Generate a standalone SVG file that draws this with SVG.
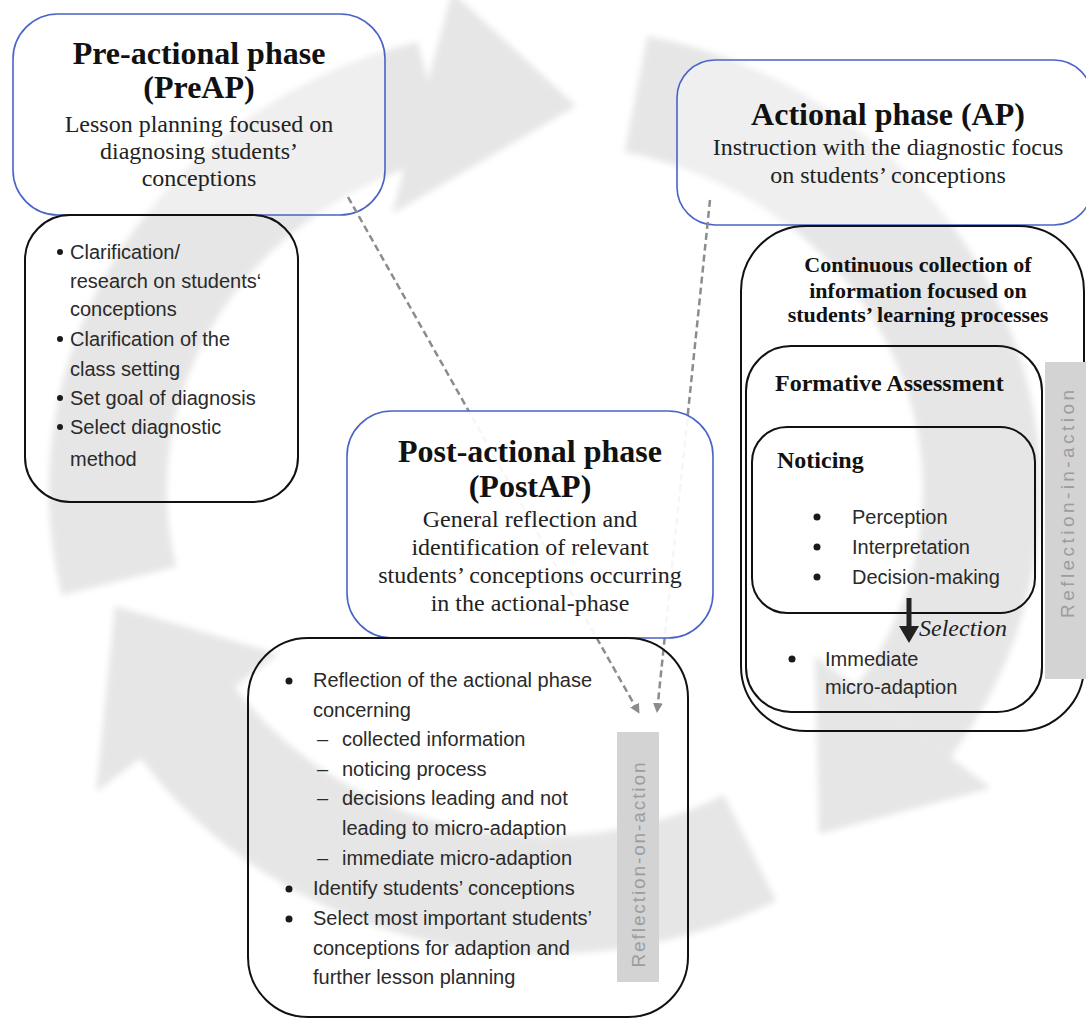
<svg xmlns="http://www.w3.org/2000/svg" width="1086" height="1019" viewBox="0 0 1086 1019">
<defs>
<style>
.bg{fill:#e6e6e6}
.bgs{fill:none;stroke:#e6e6e6;stroke-width:118}
.phase{fill:#ffffff;fill-opacity:0.35;stroke:#4a63c6;stroke-width:1.6}
.solid{fill-opacity:0.92}
.list{fill:none;stroke:#111;stroke-width:2}
.t{font-family:"Liberation Serif","Times New Roman",serif;fill:#111;text-anchor:middle}
.h{font-size:32px;font-weight:bold}
.s{font-size:24px;fill:#222}
.b{font-size:22px;font-weight:bold}
.hb{font-family:"Liberation Serif","Times New Roman",serif;font-size:24px;font-weight:bold;fill:#111}
.l{font-family:"Liberation Sans",Arial,sans-serif;font-size:20px;fill:#2a2a2a}
.dot{fill:#1a1a1a}
.dash{stroke:#8c8c8c;stroke-width:2.5;stroke-dasharray:7 4;fill:none}
.refl{fill:#d3d3d3}
.rt{font-family:"Liberation Sans",Arial,sans-serif;font-size:19px;fill:#9c9c9c;text-anchor:middle}
</style>
<marker id="ah" viewBox="0 0 10 10" refX="9" refY="5" markerWidth="4" markerHeight="4" orient="auto">
<path d="M0,0 L10,5 L0,10 z" fill="#8c8c8c"/>
</marker>
<filter id="soft" x="-10%" y="-10%" width="120%" height="120%"><feGaussianBlur stdDeviation="3"/></filter>
</defs>
<rect width="1086" height="1019" fill="#ffffff"/>

<g id="cycle" filter="url(#soft)">
<path class="bgs" d="M119,581 A437,405 0 0 1 432,99"/>
<polygon class="bg" points="452,-8 392,214 576,106"/>
<path class="bgs" d="M636,94 A437,405 0 0 1 903,722"/>
<polygon class="bg" points="991,788 815,656 819,834"/>
<path class="bgs" d="M750,848 A437,405 0 0 1 187,722"/>
<polygon class="bg" points="278,654 96,792 115,606"/>
</g>

<g id="preap">
<rect class="phase" x="13" y="14" width="372" height="201" rx="45"/>
<text class="t h" x="199" y="64">Pre-actional phase</text>
<text class="t h" x="199" y="98">(PreAP)</text>
<text class="t s" x="199" y="132">Lesson planning focused on</text>
<text class="t s" x="199" y="159">diagnosing students’</text>
<text class="t s" x="199" y="186">conceptions</text>
</g>

<g id="preap-tasks">
<rect class="list" x="25" y="215" width="273" height="287" rx="45"/>
<circle class="dot" cx="60" cy="252" r="3"/>
<circle class="dot" cx="60" cy="339" r="3"/>
<circle class="dot" cx="60" cy="398" r="3"/>
<circle class="dot" cx="60" cy="427" r="3"/>
<text class="l" x="70" y="259">Clarification/</text>
<text class="l" x="70" y="288">research on students‘</text>
<text class="l" x="70" y="316">conceptions</text>
<text class="l" x="70" y="346">Clarification of the</text>
<text class="l" x="70" y="376">class setting</text>
<text class="l" x="70" y="405">Set goal of diagnosis</text>
<text class="l" x="70" y="434">Select diagnostic</text>
<text class="l" x="70" y="466">method</text>
</g>

<g id="ap">
<rect class="phase" x="677" y="60" width="415" height="165" rx="38"/>
<text class="t h" x="888" y="125">Actional phase (AP)</text>
<text class="t s" x="888" y="155">Instruction with the diagnostic focus</text>
<text class="t s" x="888" y="183">on students’ conceptions</text>
</g>

<g id="ap-collection">
<rect class="list" x="741" y="226" width="343" height="505" rx="65"/>
<text class="t b" x="918" y="272">Continuous collection of</text>
<text class="t b" x="918" y="298">information focused on</text>
<text class="t b" x="918" y="322">students’ learning processes</text>
</g>

<g id="formative-assessment">
<rect class="list" x="746" y="346" width="296" height="366" rx="45"/>
<text class="hb" x="775" y="391">Formative Assessment</text>
</g>

<g id="noticing">
<rect class="list" x="752" y="427" width="283" height="186" rx="35"/>
<text class="hb" x="777" y="468">Noticing</text>
<circle class="dot" cx="817" cy="517" r="3.5"/>
<circle class="dot" cx="817" cy="547" r="3.5"/>
<circle class="dot" cx="817" cy="577" r="3.5"/>
<text class="l" x="852" y="524">Perception</text>
<text class="l" x="852" y="554">Interpretation</text>
<text class="l" x="852" y="584">Decision-making</text>
</g>

<g id="micro-adaption">
<circle class="dot" cx="792" cy="659" r="3.5"/>
<text class="l" x="825" y="666">Immediate</text>
<text class="l" x="825" y="694">micro-adaption</text>
</g>

<g id="reflection-in-action">
<rect class="refl" x="1045" y="362" width="45" height="317"/>
<text class="rt" transform="translate(1074,504) rotate(-90)" textLength="228" lengthAdjust="spacing">Reflection-in-action</text>
</g>

<g id="connectors">
<line class="dash" x1="348" y1="197" x2="639" y2="713" marker-end="url(#ah)"/>
<line class="dash" x1="710" y1="200" x2="657" y2="712" marker-end="url(#ah)"/>
<line x1="909" y1="598" x2="909" y2="630" stroke="#222" stroke-width="5"/>
<polygon points="899,626 919,626 909,643" fill="#222"/>
<text x="919" y="636" font-family="Liberation Serif, Times New Roman, serif" font-size="24" font-style="italic" fill="#222">Selection</text>
</g>

<g id="postap">
<rect class="phase solid" x="347" y="411" width="366" height="227" rx="45"/>
<text class="t h" x="530" y="462">Post-actional phase</text>
<text class="t h" x="530" y="497">(PostAP)</text>
<text class="t s" x="530" y="527">General reflection and</text>
<text class="t s" x="530" y="555">identification of relevant</text>
<text class="t s" x="530" y="583">students’ conceptions occurring</text>
<text class="t s" x="530" y="611">in the actional-phase</text>
</g>

<g id="postap-tasks">
<rect class="list" x="248" y="638" width="440" height="379" rx="60"/>
<circle class="dot" cx="289" cy="681" r="3.5"/>
<circle class="dot" cx="289" cy="889" r="3.5"/>
<circle class="dot" cx="289" cy="919" r="3.5"/>
<text class="l" x="313" y="687">Reflection of the actional phase</text>
<text class="l" x="313" y="717">concerning</text>
<text class="l" x="317" y="746">–</text>
<text class="l" x="342" y="746">collected information</text>
<text class="l" x="317" y="776">–</text>
<text class="l" x="342" y="776">noticing process</text>
<text class="l" x="317" y="805">–</text>
<text class="l" x="342" y="805">decisions leading and not</text>
<text class="l" x="342" y="835">leading to micro-adaption</text>
<text class="l" x="317" y="865">–</text>
<text class="l" x="342" y="865">immediate micro-adaption</text>
<text class="l" x="313" y="895">Identify students’ conceptions</text>
<text class="l" x="313" y="925">Select most important students’</text>
<text class="l" x="313" y="955">conceptions for adaption and</text>
<text class="l" x="313" y="984">further lesson planning</text>
</g>

<g id="reflection-on-action">
<rect class="refl" x="617" y="732" width="42" height="250"/>
<text class="rt" transform="translate(645,865) rotate(-90)" textLength="205" lengthAdjust="spacing">Reflection-on-action</text>
</g>
</svg>
